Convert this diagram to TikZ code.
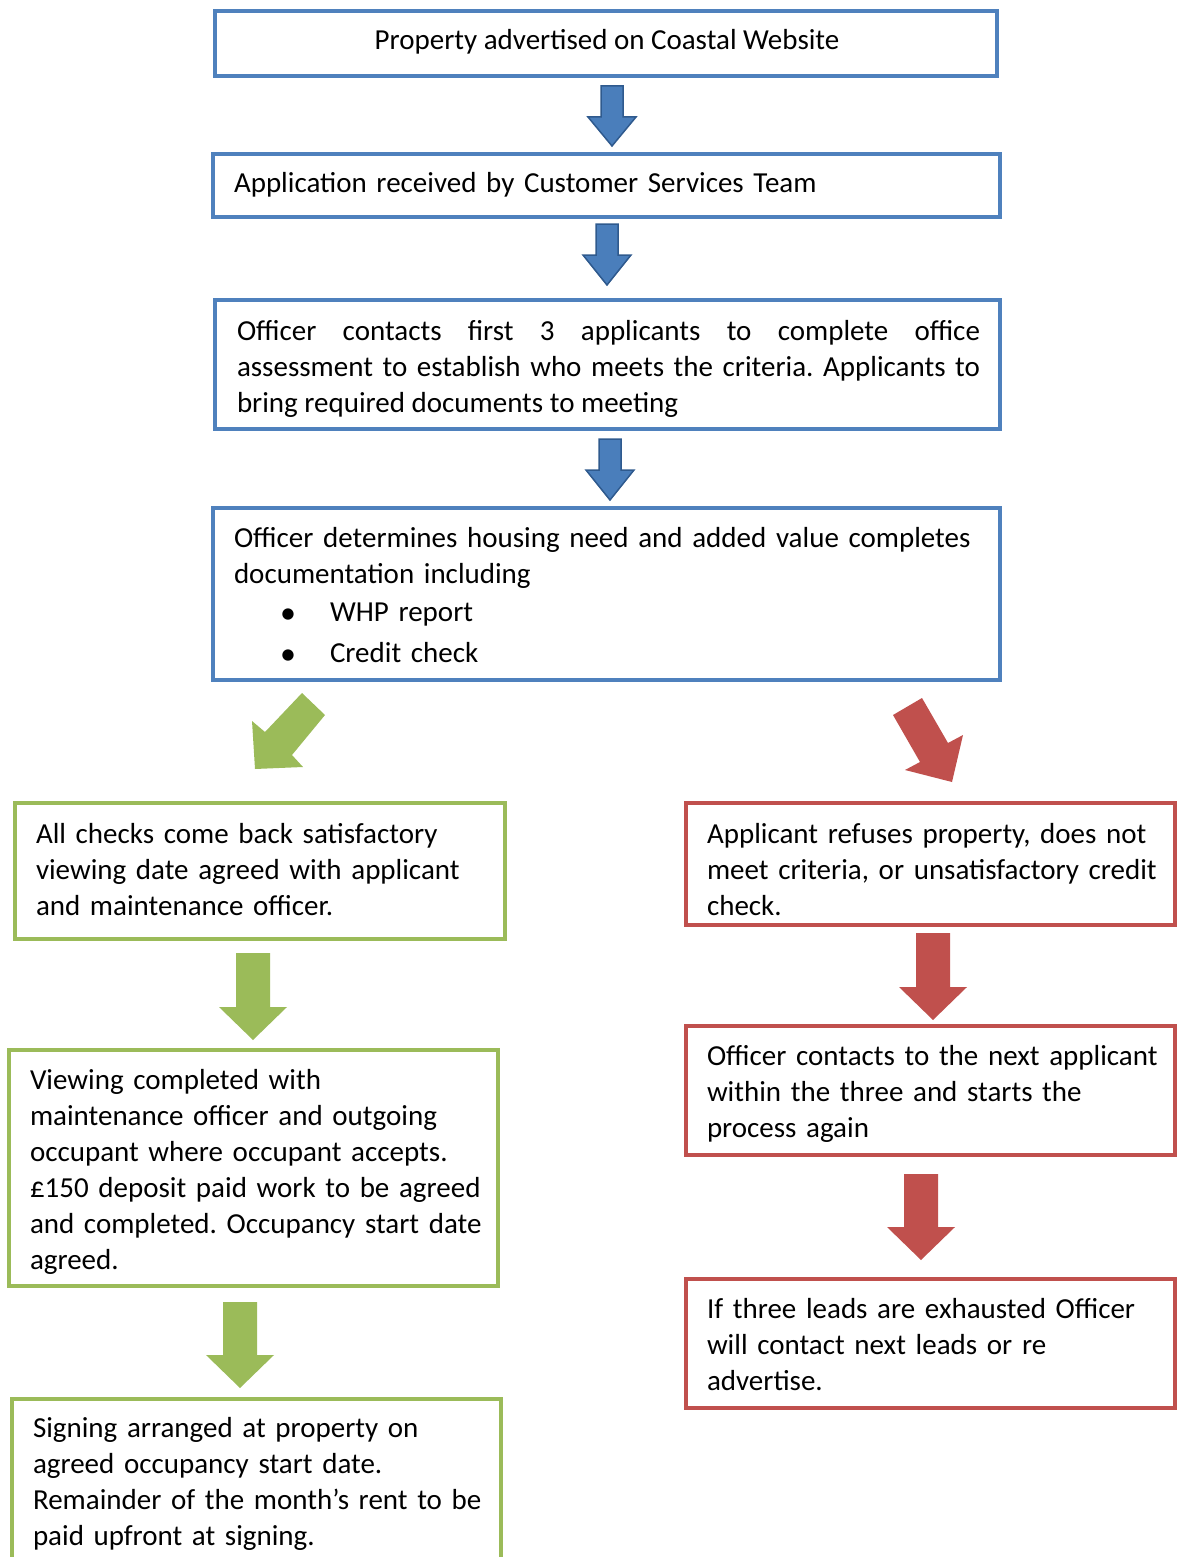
\documentclass[tikz,border=0pt]{standalone}
\usepackage{fontspec}
\setmainfont{Carlito}
\definecolor{bbord}{HTML}{4F81BD}
\definecolor{barrow}{HTML}{4A7EBB}
\definecolor{barrowd}{HTML}{2F5A8E}
\definecolor{gbord}{HTML}{9BBB59}
\definecolor{rbord}{HTML}{C0504D}
\newcommand\fsz{\fontsize{29}{36}\selectfont\frenchspacing}
\newcommand\blockdown[7]{%
  \path[#7] ({#1-#5},#2) -- ({#1+#5},#2) -- ({#1+#5},#4) -- ({#1+#6},#4) -- (#1,#3) -- ({#1-#6},#4) -- ({#1-#5},#4) -- cycle;}
\begin{document}
\begin{tikzpicture}[x=1pt,y=-1pt,
  box/.style={draw=#1, line width=4pt, inner sep=0pt, outer sep=0pt, anchor=north west, fill=white},
  txt/.style={anchor=base west, inner sep=0pt, outer sep=0pt, align=left, font=\fsz, text width=#1},
  barr/.style={fill=barrow, draw=barrowd, line width=1.5pt, line join=miter},
  garr/.style={fill=gbord},
  rarr/.style={fill=rbord}]
\useasboundingbox (0,0) rectangle (1180,1557);
\begin{scope}
\clip (0,0) rectangle (1180,1557);
% blue boxes
\node[box=bbord, minimum width=782pt, minimum height=65pt] (b1) at (215,11) {};
\node[box=bbord, minimum width=787pt, minimum height=63pt] (b2) at (213,154) {};
\node[box=bbord, minimum width=785pt, minimum height=129pt] (b3) at (215,300) {};
\node[box=bbord, minimum width=787pt, minimum height=172pt] (b4) at (213,508) {};
% green boxes
\node[box=gbord, minimum width=490pt, minimum height=136pt] (g1) at (15,803) {};
\node[box=gbord, minimum width=489pt, minimum height=236pt] (g2) at (9,1050) {};
\node[box=gbord, minimum width=489pt, minimum height=220pt] (g3) at (12,1399) {};
% red boxes
\node[box=rbord, minimum width=489pt, minimum height=122pt] (r1) at (686,803) {};
\node[box=rbord, minimum width=489pt, minimum height=129pt] (r2) at (686,1026) {};
\node[box=rbord, minimum width=489pt, minimum height=129pt] (r3) at (686,1279) {};
\end{scope}
% texts
\node[anchor=base, inner sep=0pt, font=\fsz] (t1) at (607,50) {Property advertised on Coastal Website};
\node[txt=760pt] (t2) at (234,193) {Application received by Customer Services Team};
\node[txt=743pt, align=justify] (t3) at (237,340) {Officer contacts first 3 applicants to complete office\linebreak assessment to establish who meets the criteria. Applicants to\linebreak bring required documents to meeting};
\node[txt=760pt] (t4) at (234,547) {Officer determines housing need and added value completes\\documentation including};
\node[anchor=base, inner sep=0pt, font=\fontsize{32}{36}\selectfont] (u1) at (288,623) {•};
\node[txt=400pt] (t4a) at (330,621) {WHP report};
\node[anchor=base, inner sep=0pt, font=\fontsize{32}{36}\selectfont] (u2) at (288,664) {•};
\node[txt=400pt] (t4b) at (330,662) {Credit check};
\node[txt=460pt] (tg1) at (36,843) {All checks come back satisfactory\\viewing date agreed with applicant\\and maintenance officer.};
\node[txt=460pt] (tg2) at (30,1089) {Viewing completed with\\maintenance officer and outgoing\\occupant where occupant accepts.\\£150 deposit paid work to be agreed\\and completed. Occupancy start date\\agreed.};
\node[txt=460pt] (tg3) at (33,1437) {Signing arranged at property on\\agreed occupancy start date.\\Remainder of the month’s rent to be\\paid upfront at signing.};
\node[txt=460pt] (tr1) at (707,843) {Applicant refuses property, does not\\meet criteria, or unsatisfactory credit\\check.};
\node[txt=460pt] (tr2) at (707,1065) {Officer contacts to the next applicant\\within the three and starts the\\process again};
\node[txt=460pt] (tr3) at (707,1318) {If three leads are exhausted Officer\\will contact next leads or re\\advertise.};
% blue block arrows
\blockdown{612}{86}{146}{117}{11}{24}{barr}
\blockdown{607}{224}{285}{255}{11}{24}{barr}
\blockdown{610}{439}{500}{470}{11}{24}{barr}
% diagonal arrows
\path[garr] (302,693) -- (325,715) -- (292,755) -- (303,767) -- (255,769) -- (252,721) -- (265,732) -- cycle;
\path[rarr] (893,715) -- (922,698) -- (948,743) -- (963,735) -- (952,782) -- (905,770) -- (920,762) -- cycle;
% green down arrows
\blockdown{253}{953}{1040}{1007}{17}{34}{garr}
\blockdown{240}{1302}{1388}{1355}{17}{34}{garr}
% red down arrows
\blockdown{933}{933}{1020}{987}{17}{34}{rarr}
\blockdown{921}{1174}{1260}{1227}{17}{34}{rarr}
\end{tikzpicture}
\end{document}
